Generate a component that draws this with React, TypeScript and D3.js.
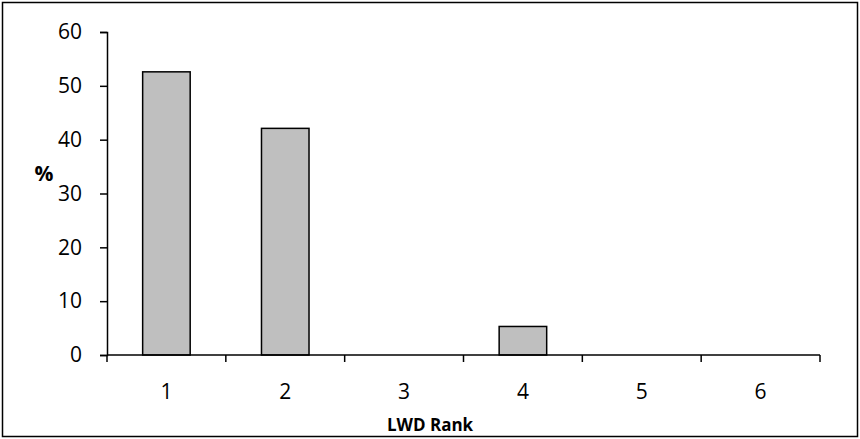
import React, { useEffect, useRef } from "react";
import * as d3 from "d3";

const ranks = ["1", "2", "3", "4", "5", "6"];
const percents = [52.6, 42.1, 0, 5.3, 0, 0];
const yTicks = [0, 10, 20, 30, 40, 50, 60];

export default function App() {
  const svgRef = useRef<SVGSVGElement>(null);

  useEffect(() => {
    if (!svgRef.current) return;
    const svg = d3.select(svgRef.current);
    svg.selectAll("*").remove();

    const width = 860;
    const height = 439;
    const margin = { top: 32, right: 40, bottom: 84, left: 107 };
    const font = "Open Sans, Noto Sans, sans-serif";

    // outer chart frame
    svg.append("rect")
      .attr("x", 2.5).attr("y", 2.5)
      .attr("width", width - 5).attr("height", height - 5)
      .attr("fill", "#fff").attr("stroke", "#000").attr("stroke-width", 1.5);

    const x = d3.scaleBand()
      .domain(ranks)
      .range([margin.left, width - margin.right])
      .paddingInner(0.6).paddingOuter(0.3);

    const xOuter = d3.scaleBand()
      .domain(ranks)
      .range([margin.left, width - margin.right]);

    const y = d3.scaleLinear()
      .domain([0, 60])
      .range([height - margin.bottom, margin.top]);

    const data = ranks.map((r, i) => ({ rank: r, value: percents[i] }));

    // bars (zero-valued categories draw nothing)
    svg.selectAll(".bar")
      .data(data.filter(d => d.value > 0))
      .enter()
      .append("rect")
      .attr("class", "bar")
      .attr("x", d => x(d.rank)!)
      .attr("y", d => y(d.value))
      .attr("width", x.bandwidth())
      .attr("height", d => y(0) - y(d.value))
      .attr("fill", "#bfbfbf")
      .attr("stroke", "#000")
      .attr("stroke-width", 1.5);

    // y axis
    const yAxis = svg.append("g")
      .attr("transform", `translate(${margin.left},0)`)
      .call(d3.axisLeft(y).tickValues(yTicks).tickSize(7).tickSizeOuter(7).tickPadding(18));
    yAxis.select(".domain").attr("stroke", "#000").attr("stroke-width", 1.5);
    yAxis.selectAll(".tick line").attr("stroke", "#000").attr("stroke-width", 1.5);
    yAxis.selectAll(".tick text")
      .attr("font-family", font).attr("font-size", 21).attr("fill", "#000");

    // x axis with ticks at category boundaries
    const xAxisG = svg.append("g")
      .attr("transform", `translate(0,${y(0)})`);
    xAxisG.append("line")
      .attr("x1", margin.left).attr("x2", width - margin.right)
      .attr("stroke", "#000").attr("stroke-width", 1.5);
    const bounds = ranks.map(r => xOuter(r)!).concat([width - margin.right]);
    xAxisG.selectAll(".xt")
      .data(bounds)
      .enter()
      .append("line")
      .attr("x1", d => d).attr("x2", d => d)
      .attr("y1", 0).attr("y2", 7)
      .attr("stroke", "#000").attr("stroke-width", 1.5);
    xAxisG.selectAll(".xl")
      .data(ranks)
      .enter()
      .append("text")
      .attr("x", d => xOuter(d)! + xOuter.bandwidth() / 2)
      .attr("y", 44)
      .attr("text-anchor", "middle")
      .attr("font-family", font).attr("font-size", 21)
      .text(d => d);

    // axis titles
    svg.append("text")
      .attr("x", 44).attr("y", 181)
      .attr("text-anchor", "middle")
      .attr("font-family", font).attr("font-size", 21).attr("font-weight", "bold")
      .text("%");

    svg.append("text")
      .attr("x", 430)
      .attr("y", 431)
      .attr("text-anchor", "middle")
      .attr("font-family", font).attr("font-size", 17).attr("font-weight", "bold")
      .text("LWD Rank");
  }, []);

  return (
    <svg
      ref={svgRef}
      width={860}
      height={439}
      viewBox="0 0 860 439"
      style={{ position: "absolute", top: 0, left: 0, display: "block" }}
    />
  );
}
